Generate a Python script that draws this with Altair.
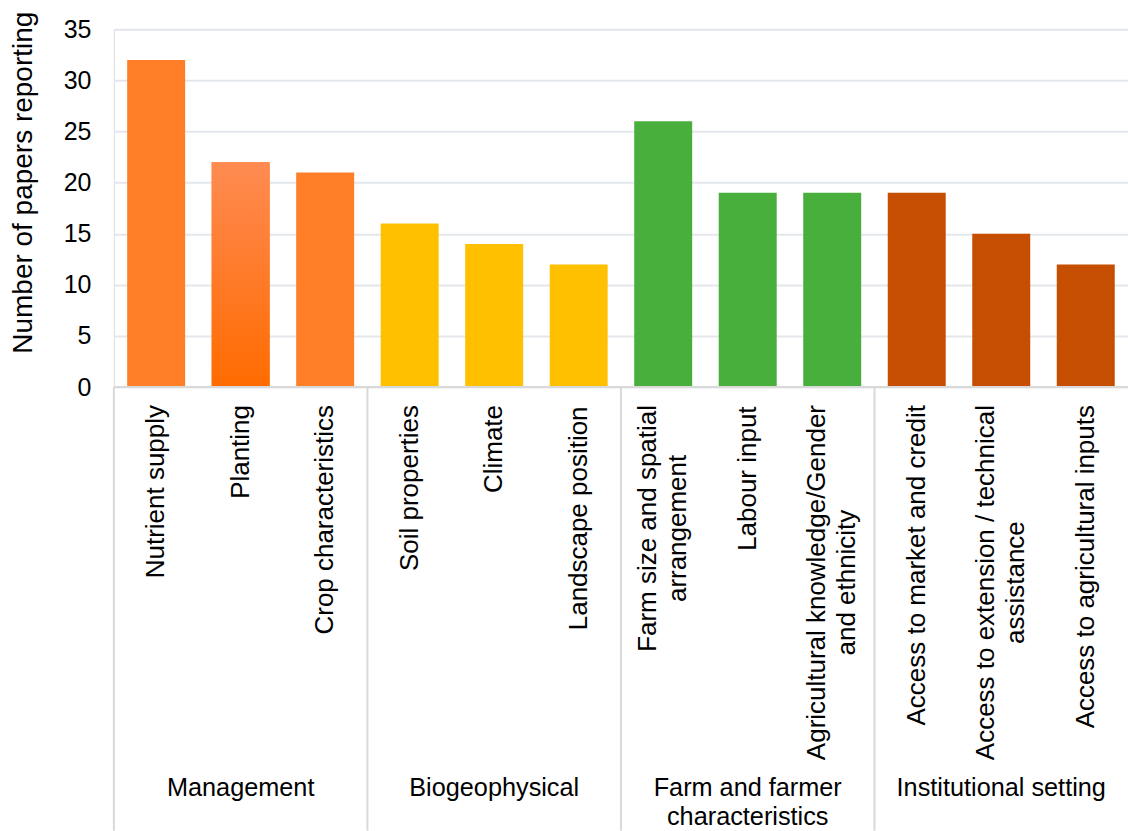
import altair as alt
import pandas as pd

# ---- data -------------------------------------------------------------
groups = ["Management", "Biogeophysical", "Farm and farmer\ncharacteristics", "Institutional setting"]
group_colors = ["#FF7F28", "#FFC000", "#48AE3C", "#C54E00"]

categories = [
    "Nutrient supply", "Planting", "Crop characteristics",
    "Soil properties", "Climate", "Landscape position",
    "Farm size and spatial\narrangement", "Labour input", "Agricultural knowledge/Gender\nand ethnicity",
    "Access to market and credit", "Access to extension / technical\nassistance", "Access to agricultural inputs",
]
category_group = [groups[0]] * 3 + [groups[1]] * 3 + [groups[2]] * 3 + [groups[3]] * 3
papers = [32, 22, 21, 16, 14, 12, 26, 19, 19, 19, 15, 12]
y_ticks = [0, 5, 10, 15, 20, 25, 30, 35]

# ---- layout / style ---------------------------------------------------
FONT = "Liberation Sans"
W, H = 1015, 358
LABEL_SIZE = 26
GROUP_SIZE = 25.3
LABEL_LINE = 30
LABEL_TOP = 376          # top end of the rotated category labels (plot coords)

# Arial / Liberation Sans advance widths (1/1000 em), used to centre
# the rotated, possibly two-line, category labels under their bars.
ADV = {
    " ": 278, "/": 278, "A": 667, "C": 722, "F": 611, "G": 778, "L": 667,
    "N": 722, "P": 667, "S": 667,
    "a": 556, "b": 556, "c": 500, "d": 556, "e": 556, "f": 278, "g": 556,
    "h": 556, "i": 222, "j": 222, "k": 500, "l": 222, "m": 833, "n": 556,
    "o": 556, "p": 556, "q": 556, "r": 333, "s": 500, "t": 278, "u": 556,
    "v": 500, "w": 722, "x": 500, "y": 500, "z": 500,
}


def text_px(s, size):
    return sum(ADV.get(ch, 556) for ch in s) * size / 1000.0


bars = pd.DataFrame({"category": categories, "group": category_group, "papers": papers})
bars["label_y"] = [
    LABEL_TOP + max(text_px(line, LABEL_SIZE) for line in c.split("\n")) / 2.0
    for c in categories
]

group_first = [categories[i] for i in (0, 3, 6, 9)]
group_mid = [categories[i] for i in (1, 4, 7, 10)]
group_df = pd.DataFrame({"group": groups, "first": group_first, "mid": group_mid})

x_scale = alt.Scale(domain=categories, paddingInner=0, paddingOuter=0)
y_scale = alt.Scale(domain=[0, 35], nice=False)

y_axis = alt.Axis(
    values=y_ticks,
    grid=True, gridColor="#E3E7EC", gridWidth=2,
    domain=False, ticks=False, tickSize=0,
    labelPadding=23, labelFontSize=25, labelColor="#000000", labelFont=FONT,
    title="Number of papers reporting",
    titleFontSize=28, titleFontWeight="normal", titleColor="#000000", titleFont=FONT,
    titleAngle=270, titleAlign="center", titleBaseline="alphabetic",
    titleX=-82, titleY=153,
)

base = alt.Chart(bars)

bar_layer = base.mark_bar(width=alt.RelativeBandSize(0.686)).encode(
    x=alt.X("category:N", scale=x_scale, axis=None, sort=categories),
    y=alt.Y("papers:Q", scale=y_scale, axis=y_axis),
    color=alt.Color("group:N", scale=alt.Scale(domain=groups, range=group_colors), legend=None),
)

planting_fill = alt.LinearGradient(
    gradient="linear",
    stops=[
        alt.GradientStop(color="#FF8B52", offset=0),
        alt.GradientStop(color="#FF7B2A", offset=0.5),
        alt.GradientStop(color="#FF6B00", offset=1),
    ],
    x1=0, x2=0, y1=0, y2=1,
)

planting_layer = base.transform_filter(alt.datum.category == "Planting").mark_bar(
    width=alt.RelativeBandSize(0.686), color=planting_fill
).encode(
    x=alt.X("category:N", scale=x_scale, axis=None, sort=categories),
    y=alt.Y("papers:Q", scale=y_scale, axis=y_axis),
)

baseline = alt.Chart(pd.DataFrame({"v": [0]})).mark_rule(color="#D9D9D9", strokeWidth=2).encode(
    y=alt.Y("v:Q", scale=y_scale, axis=y_axis),
    x=alt.value(0),
    x2=alt.value(W),
)

separators = alt.Chart(group_df).mark_rule(color="#D9D9D9", strokeWidth=2).encode(
    x=alt.X("first:N", scale=x_scale, axis=None, bandPosition=0),
    y=alt.value(H),
    y2=alt.value(H + 444),
)

label_enc = dict(
    x=alt.X("category:N", scale=x_scale, axis=None, bandPosition=0.5),
    y=alt.Y("label_y:Q", scale=None, axis=None),
    text="category:N",
)
label_style = dict(
    angle=270, align="center", baseline="middle", lineBreak="\n", lineHeight=LABEL_LINE,
    font=FONT, fontSize=LABEL_SIZE, color="#000000",
)

# one-line category labels
cat_labels_1 = base.transform_filter(
    "indexof(datum.category, '\\n') < 0"
).mark_text(**label_style).encode(**label_enc)

# two-line category labels: shift the block so both lines sit around the bar centre
cat_labels_2 = base.transform_filter(
    "indexof(datum.category, '\\n') >= 0"
).mark_text(dy=-LABEL_LINE / 2, **label_style).encode(**label_enc)

group_labels = alt.Chart(group_df).mark_text(
    align="center", baseline="alphabetic", lineBreak="\n", lineHeight=29,
    font=FONT, fontSize=GROUP_SIZE, color="#000000",
).encode(
    x=alt.X("mid:N", scale=x_scale, axis=None, bandPosition=0.5),
    y=alt.value(767),
    text="group:N",
)

chart = (
    alt.layer(bar_layer, planting_layer, baseline, separators, cat_labels_1, cat_labels_2, group_labels)
    .properties(
        width=W, height=H,
        autosize=alt.AutoSizeParams(type="none"),
        padding={"left": 114, "top": 29, "right": 0, "bottom": 444},
        background="#FFFFFF",
    )
    .configure_view(stroke=None)
    .configure(font=FONT)
)

chart.save("out.html", embed_options={"renderer": "svg", "actions": False})
